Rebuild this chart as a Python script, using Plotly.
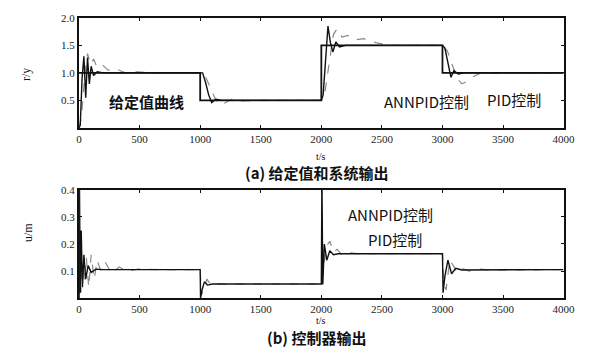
import plotly.graph_objects as go

# ---- time axis / tick labels ----
X_TICKS = [0, 500, 1000, 1500, 2000, 2500, 3000, 3500, 4000]
Y1_TICKS = [0.5, 1.0, 1.5, 2.0]
Y2_TICKS = [0.1, 0.2, 0.3, 0.4]

# ---- setpoint r(t) ----
T_REF = [0, 1000, 1000, 2000, 2000, 3000, 3000, 4000]
R_REF = [1.0, 1.0, 0.5, 0.5, 1.5, 1.5, 1.0, 1.0]

# ---- system output, ANNPID control ----
T_ANN_Y = [0, 10, 25, 40, 55, 70, 85, 100, 120, 150, 200,
           1000, 1020, 1045, 1070, 1095, 1130, 1180,
           2000, 2015, 2035, 2055, 2075, 2095, 2120, 2150, 2200,
           3000, 3020, 3045, 3070, 3095, 3130, 3180, 4000]
Y_ANN = [0.0, 0.05, 0.9, 1.3, 0.55, 1.28, 0.8, 1.12, 0.95, 1.02, 1.0,
         1.0, 1.0, 0.82, 0.6, 0.46, 0.52, 0.5,
         0.5, 0.6, 1.2, 1.85, 1.55, 1.38, 1.56, 1.47, 1.5,
         1.5, 1.45, 1.2, 0.92, 1.04, 0.98, 1.0, 1.0]

# ---- system output, PID control ----
T_PID_Y = [0, 20, 45, 70, 95, 120, 150, 190, 240, 300, 380, 480, 600,
           1000, 1040, 1080, 1120, 1160, 1200, 1260, 1340, 1450,
           2000, 2030, 2070, 2100, 2130, 2170, 2220, 2280, 2350, 2450, 2550,
           3000, 3040, 3080, 3120, 3160, 3200, 3260, 3340, 3440, 3560, 4000]
Y_PID = [0.0, 0.2, 0.9, 1.35, 1.15, 1.25, 1.1, 1.15, 1.05, 1.08, 1.0, 1.02, 1.0,
         1.0, 0.95, 0.75, 0.55, 0.42, 0.45, 0.52, 0.49, 0.5,
         0.5, 0.65, 1.3, 1.7, 1.8, 1.65, 1.68, 1.6, 1.62, 1.55, 1.5,
         1.5, 1.4, 1.15, 0.9, 0.8, 0.84, 0.94, 1.02, 0.99, 1.0, 1.0]

# ---- controller output, ANNPID ----
T_ANN_U = [0, 3, 10, 18, 28, 40, 55, 75, 100, 140, 200,
           1000, 1003, 1015, 1035, 1060, 1100,
           2000, 2005, 2012, 2025, 2045, 2070, 2100, 2140,
           3000, 3005, 3020, 3045, 3075, 3110, 3160, 4000]
U_ANN = [0.0, 0.45, 0.02, 0.25, 0.04, 0.16, 0.07, 0.12, 0.095, 0.107, 0.105,
         0.105, 0.0, 0.03, 0.06, 0.048, 0.052,
         0.052, 0.45, 0.05, 0.2, 0.14, 0.175, 0.16, 0.164,
         0.164, 0.02, 0.08, 0.14, 0.09, 0.11, 0.104, 0.105]

# ---- controller output, PID ----
T_PID_U = [0, 5, 15, 30, 45, 60, 80, 100, 125, 150, 180, 220, 270, 330, 400, 500, 650,
           1000, 1010, 1030, 1055, 1080, 1110, 1150, 1220, 1300,
           2000, 2015, 2040, 2070, 2100, 2130, 2170, 2220, 2300,
           3000, 3010, 3030, 3060, 3090, 3120, 3160, 3220, 3300, 3400, 4000]
U_PID = [0.0, 0.25, 0.02, 0.12, 0.06, 0.15, 0.04, 0.16, 0.07, 0.14, 0.1, 0.13, 0.09, 0.115, 0.1, 0.108, 0.105,
         0.105, 0.01, 0.04, 0.07, 0.055, 0.045, 0.053, 0.05, 0.052,
         0.052, 0.1, 0.19, 0.21, 0.17, 0.18, 0.16, 0.168, 0.164,
         0.164, 0.06, 0.03, 0.14, 0.12, 0.095, 0.11, 0.1, 0.107, 0.104, 0.105]

SERIF = "Liberation Serif"
CJK = "Noto Sans CJK SC"
INK = "#111111"
GREY = "#8a8a8a"

fig = go.Figure()

# top panel: setpoint and outputs
fig.add_trace(go.Scatter(x=T_PID_Y, y=Y_PID, mode="lines", xaxis="x", yaxis="y",
                         line=dict(color=GREY, width=1.2, dash="dash")))
fig.add_trace(go.Scatter(x=T_REF, y=R_REF, mode="lines", xaxis="x", yaxis="y",
                         line=dict(color=INK, width=1.8)))
fig.add_trace(go.Scatter(x=T_ANN_Y, y=Y_ANN, mode="lines", xaxis="x", yaxis="y",
                         line=dict(color=INK, width=1.4)))

# bottom panel: controller outputs
fig.add_trace(go.Scatter(x=T_PID_U, y=U_PID, mode="lines", xaxis="x2", yaxis="y2",
                         line=dict(color=GREY, width=1.2, dash="dash")))
fig.add_trace(go.Scatter(x=T_ANN_U, y=U_ANN, mode="lines", xaxis="x2", yaxis="y2",
                         line=dict(color=INK, width=1.4)))

axis_common = dict(showline=True, linecolor=INK, linewidth=2, mirror="ticks",
                   ticks="inside", ticklen=3, tickcolor=INK, showgrid=False,
                   zeroline=False, tickfont=dict(family=SERIF, size=11, color="#222"))

XDOM = [78 / 599, 575 / 599]
fig.update_layout(
    width=599, height=361,
    margin=dict(l=0, r=0, t=0, b=0),
    paper_bgcolor="white", plot_bgcolor="white",
    showlegend=False,
    xaxis=dict(domain=XDOM, range=[0, 4000], tickvals=X_TICKS, anchor="y", **axis_common),
    yaxis=dict(domain=[(361 - 124) / 361, (361 - 12) / 361], range=[0, 2.0],
               tickvals=Y1_TICKS, tickformat=".1f", anchor="x", **axis_common),
    xaxis2=dict(domain=XDOM, range=[0, 4000], tickvals=X_TICKS, anchor="y2", **axis_common),
    yaxis2=dict(domain=[(361 - 297) / 361, (361 - 187) / 361], range=[0, 0.4],
                tickvals=Y2_TICKS, tickformat=".1f", anchor="x2", **axis_common),
)

def paper_text(x, y, text, size, family, angle=0):
    fig.add_annotation(x=x / 599, y=1 - y / 361, xref="paper", yref="paper",
                       text=text, showarrow=False, textangle=angle, borderpad=0,
                       font=dict(family=family, size=size, color=INK))

# axis titles and captions
paper_text(326, 153, "t/s", 10, SERIF)
paper_text(322, 169, "<b>(a) 给定值和系统输出</b>", 15, CJK)
paper_text(16, 62, "r/y", 12, SERIF, angle=-90)
paper_text(326, 326, "t/s", 10, SERIF)
paper_text(322, 349, "<b>(b) 控制器输出</b>", 15, CJK)
paper_text(18, 241, "u/m", 12, SERIF, angle=-90)

# curve labels in data coordinates
def data_text(x, y, text, xa, ya):
    fig.add_annotation(x=x, y=y, xref=xa, yref=ya, text=text, showarrow=False,
                       font=dict(family=CJK, size=15, color=INK))

data_text(560, 0.48, "<b>给定值曲线</b>", "x", "y")
data_text(2870, 0.48, "ANNPID控制", "x", "y")
data_text(3590, 0.52, "PID控制", "x", "y")
data_text(2575, 0.31, "ANNPID控制", "x2", "y2")
data_text(2610, 0.215, "PID控制", "x2", "y2")

fig.write_html("out.html")
